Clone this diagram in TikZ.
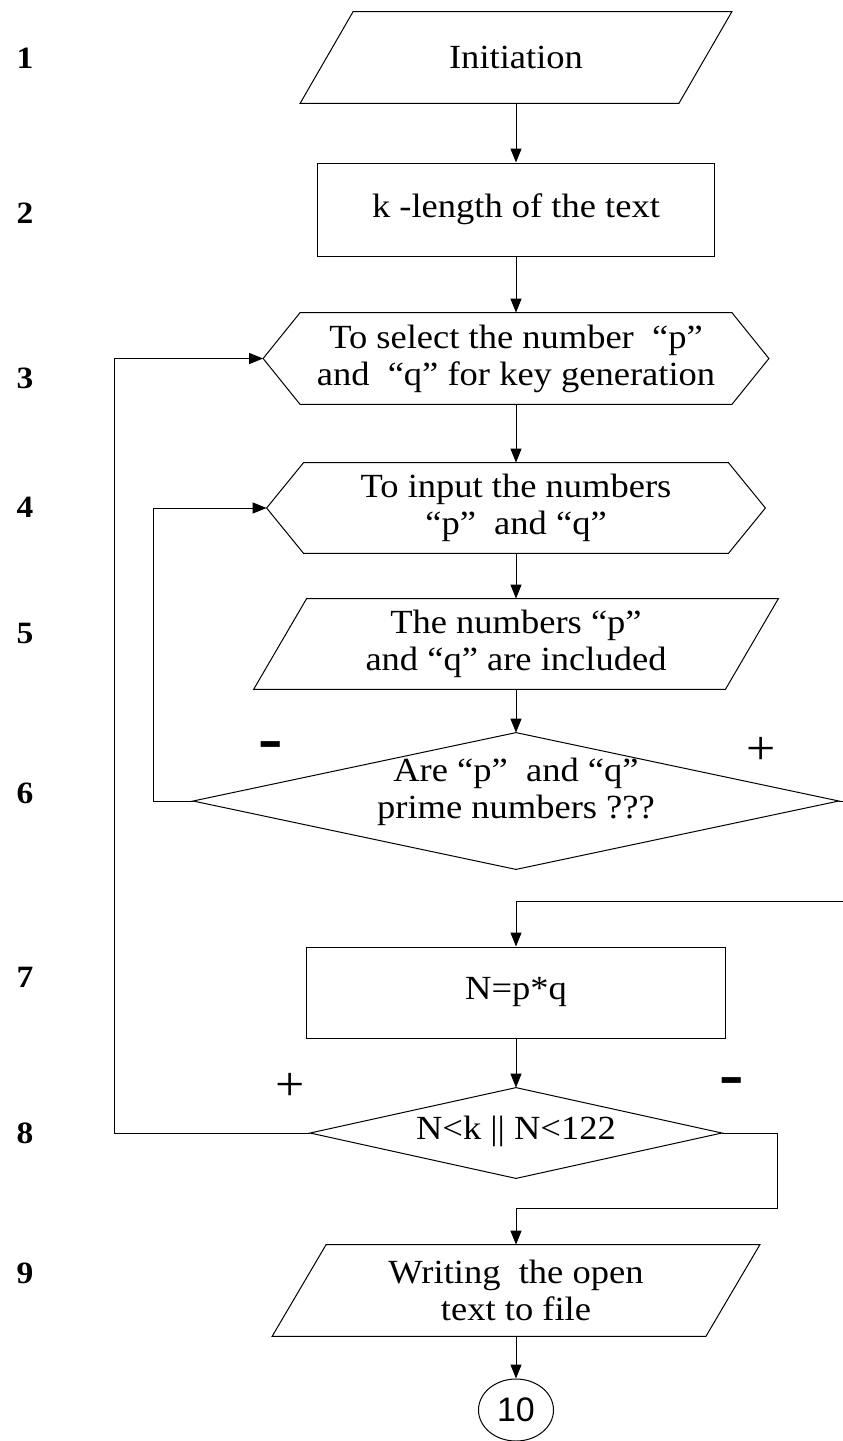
\documentclass[tikz,border=0pt]{standalone}
\usepackage{fontspec}
\setmainfont{Liberation Serif}[FakeStretch=1.08]
\newfontfamily\connfont{Liberation Sans}
\usetikzlibrary{calc,shapes.geometric,arrows.meta}

\begin{document}
\begin{tikzpicture}[x=0.5pt,y=-0.5pt,
  outline/.style={line width=0.5pt, draw=black, line join=miter},
  box/.style={inner sep=0pt, align=center, font=\fontsize{16.9}{18.5}\selectfont},
  link/.style={line width=0.5pt, -{Triangle[length=7pt,width=5.5pt]}},
  stepno/.style={font=\fontsize{15.5}{16}\selectfont\bfseries},
  plussign/.style={font=\fontsize{24}{24}\selectfont},
  minussign/.style={font=\fontsize{34}{34}\selectfont\bfseries}]
\useasboundingbox (0,0) rectangle (842,1441);

% ---- step numbers on the left
\node[stepno] (s1) at (25,58) {1};
\node[stepno] (s2) at (25,213) {2};
\node[stepno] (s3) at (25,378) {3};
\node[stepno] (s4) at (25,507) {4};
\node[stepno] (s5) at (25,633) {5};
\node[stepno] (s6) at (25,793) {6};
\node[stepno] (s7) at (25,977) {7};
\node[stepno] (s8) at (25,1133) {8};
\node[stepno] (s9) at (25,1273) {9};

% ---- 1: input parallelogram
\node[box, minimum width=215.5pt, minimum height=45.5pt] (n1) at (516,57.5) {Initiation};
\draw[outline] ($(n1.north west)+(53,0)$) -- (n1.north east)
  -- ($(n1.south east)-(53,0)$) -- (n1.south west) -- cycle;

% ---- 2: process box
\node[box, outline, minimum width=198.5pt, minimum height=46.5pt] (n2) at (516,209.5) {k -length of the text};

% ---- 3: preparation hexagon
\node[box, minimum width=252.5pt, minimum height=45.5pt] (n3) at (516,358.5)
  {To select the number~ “p”\\and~ “q” for key generation};
\draw[outline] (n3.west) -- ($(n3.north west)+(37,0)$) -- ($(n3.north east)-(37,0)$)
  -- (n3.east) -- ($(n3.south east)-(37,0)$) -- ($(n3.south west)+(37,0)$) -- cycle;

% ---- 4: preparation hexagon
\node[box, minimum width=249pt, minimum height=45pt] (n4) at (516,508)
  {To input the numbers\\“p”~ and “q”};
\draw[outline] (n4.west) -- ($(n4.north west)+(37,0)$) -- ($(n4.north east)-(37,0)$)
  -- (n4.east) -- ($(n4.south east)-(37,0)$) -- ($(n4.south west)+(37,0)$) -- cycle;

% ---- 5: input parallelogram
\node[box, minimum width=262pt, minimum height=45pt] (n5) at (516,644)
  {The numbers “p”\\and “q” are included};
\draw[outline] ($(n5.north west)+(53,0)$) -- (n5.north east)
  -- ($(n5.south east)-(53,0)$) -- (n5.south west) -- cycle;

% ---- 6: decision
\node[box, minimum width=322.5pt, minimum height=68pt] (n6) at (516,801) {};
\draw[outline] (n6.north) -- (n6.east) -- (n6.south) -- (n6.west) -- cycle;
\node[box] (n6txt) at (516,792) {Are “p”~ and “q”\\prime numbers ???};
\node[minussign] (m6) at (271,751) {-};
\node[plussign] (p6) at (761,751) {+};

% ---- 7: process box
\node[box, outline, minimum width=209.5pt, minimum height=45.5pt] (n7) at (516,992.5) {N=p*q};

% ---- 8: decision
\node[box, minimum width=205.5pt, minimum height=45pt] (n8) at (516,1133) {};
\draw[outline] (n8.north) -- (n8.east) -- (n8.south) -- (n8.west) -- cycle;
\node[box] (n8txt) at (516,1131) {N<k || N<122};
\node[plussign] (p8) at (290,1087) {+};
\node[minussign] (m8) at (732,1087) {-};

% ---- 9: output parallelogram
\node[box, minimum width=243.5pt, minimum height=45.5pt] (n9) at (516,1290.5)
  {Writing~ the open\\text to file};
\draw[outline] ($(n9.north west)+(54,0)$) -- (n9.north east)
  -- ($(n9.south east)-(54,0)$) -- (n9.south west) -- cycle;

% ---- 10: connector
\node[ellipse, outline, inner sep=0pt, minimum width=37.5pt, minimum height=31pt,
  font=\connfont\fontsize{17}{18}\selectfont] (n10) at (516,1410) {10};

% ---- flow lines
\draw[link] (n1.south) -- (n2.north);
\draw[link] (n2.south) -- (n3.north);
\draw[link] (n3.south) -- (n4.north);
\draw[link] (n4.south) -- (n5.north);
\draw[link] (n5.south) -- (n6.north);
\coordinate (j6) at (844,901);
\draw[link] (n6.east) -| (j6) -| (n7.north);
\draw[link] (n6.west) -- ++(-40,0) |- (n4.west);
\draw[link] (n7.south) -- (n8.north);
\draw[link] (n8.west) -- ++(-196,0) |- (n3.west);
\coordinate (j8) at (777,1208);
\draw[link] (n8.east) -| (j8) -| (n9.north);
\draw[link] (n9.south) -- (n10.north);
\end{tikzpicture}
\end{document}
